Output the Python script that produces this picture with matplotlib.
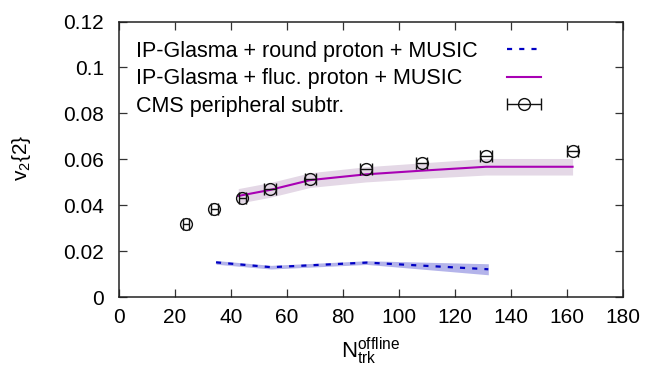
import matplotlib
matplotlib.use("Agg")
import matplotlib.pyplot as plt
from matplotlib.legend_handler import HandlerErrorbar
import numpy as np

plt.rcParams['font.family'] = ['Liberation Sans', 'DejaVu Sans']
plt.rcParams['mathtext.fontset'] = 'custom'
plt.rcParams['mathtext.rm'] = 'Liberation Sans'
plt.rcParams['mathtext.it'] = 'Liberation Sans'

# CMS data
cms_x = [24.0, 34.1, 44.1, 54.0, 68.4, 88.3, 108.2, 131.2, 162.1]
cms_y = [0.0318, 0.0383, 0.0431, 0.0470, 0.0514, 0.0558, 0.0583, 0.0616, 0.0637]
cms_xerr = [1.2, 1.2, 1.2, 2.0, 2.0, 2.0, 2.0, 2.0, 2.0]

# IP-Glasma + fluctuating proton + MUSIC
fluc_x = [42.7, 54.0, 68.4, 88.3, 108.2, 131.2, 162.1]
fluc_y = [0.0441, 0.0467, 0.0510, 0.0535, 0.0551, 0.0568, 0.0568]
fluc_err = [0.0032, 0.0032, 0.0032, 0.0033, 0.0034, 0.0036, 0.0036]

# IP-Glasma + round proton + MUSIC
round_x = [34.75, 54.4, 88.6, 132.0]
round_y = [0.0152, 0.0131, 0.0151, 0.0122]
round_err = [0.0008, 0.0008, 0.0008, 0.0024]

labels = ['IP-Glasma + round proton + MUSIC',
          'IP-Glasma + fluc. proton + MUSIC',
          'CMS peripheral subtr.']

W, H = 645, 366
fig = plt.figure(figsize=(W / 100, H / 100), dpi=100)
L, R, T, B = 118.7, 622.7, 21.5, 297.3
ax = fig.add_axes([L / W, 1 - B / H, (R - L) / W, (B - T) / H])

fx = np.array(fluc_x); fy = np.array(fluc_y); fe = np.array(fluc_err)
ax.fill_between(fx, fy - fe, fy + fe, color='#e4d8e6', lw=0, zorder=1)
rx = np.array(round_x); ry = np.array(round_y); re = np.array(round_err)
ax.fill_between(rx, ry - re, ry + re, color='#b4b4ea', lw=0, zorder=1)

l1, = ax.plot(round_x, round_y, color='#0000c4', lw=1.6, ls=(0, (2.3, 3.2)),
              zorder=3, label=labels[0])
l2, = ax.plot(fluc_x, fluc_y, color='#a800b4', lw=1.5, zorder=3, label=labels[1])
eb = ax.errorbar(cms_x, cms_y, xerr=cms_xerr, fmt='o', ms=8.5,
                 mfc='none', mec='#111111', mew=1.0, ecolor='#111111', elinewidth=1.0,
                 capsize=4, capthick=1.0, zorder=4, label=labels[2])

ax.set_xlim(0, 180)
ax.set_ylim(0, 0.12)
ax.set_xticks(np.arange(0, 181, 20))
ax.set_yticks([0, 0.02, 0.04, 0.06, 0.08, 0.1, 0.12])
ax.set_yticklabels(['0', '0.02', '0.04', '0.06', '0.08', '0.1', '0.12'])
ax.tick_params(direction='in', length=5.8, width=0.9, labelsize=15, top=True, right=True,
               color='#333333')
ax.tick_params(axis='x', pad=7.5)
ax.tick_params(axis='y', pad=10.5)
for s in ax.spines.values():
    s.set_linewidth(1.1)
    s.set_color('#222222')

fig.text(370.5 / W, 1 - 351 / H, r'N$_{\mathrm{trk}}^{\mathrm{offline}}$', fontsize=16,
         ha='center', va='center')
fig.text(21.7 / W, 1 - 158 / H, r'v$_2${2}', fontsize=15, rotation=90,
         ha='center', va='center')

leg = ax.legend(handles=[l1, l2, eb], labels=labels, loc='upper left', frameon=False,
                fontsize=15.5, markerfirst=False, handlelength=1.55, handletextpad=0.5,
                borderaxespad=0, borderpad=0, labelspacing=0.3,
                bbox_to_anchor=((136 - L) / (R - L), (B - 41) / (B - T)),
                handler_map={type(eb): HandlerErrorbar(xerr_size=0.78)})
# left-align the labels and push every handle to the same right edge
for col in leg._legend_handle_box.get_children():
    col.align = 'left'
    for item in col.get_children():
        item.mode = 'expand'
        item.width = 540.7 - 136

fig.savefig('out.png', dpi=100)
